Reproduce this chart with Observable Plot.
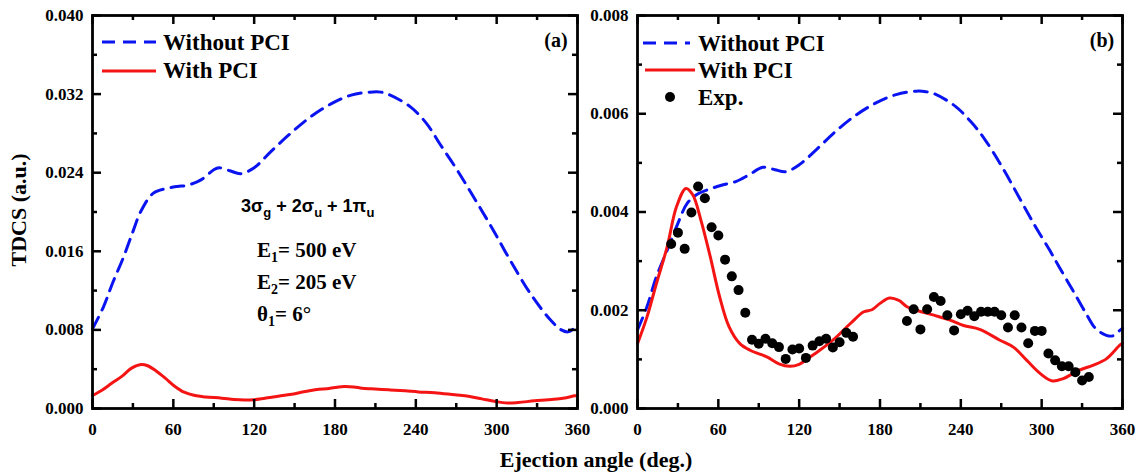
<!DOCTYPE html>
<html>
<head>
<meta charset="utf-8">
<script src="https://cdn.jsdelivr.net/npm/d3@7"></script>
<script src="https://cdn.jsdelivr.net/npm/@observablehq/plot@0.6"></script>
<style>
  body { margin: 0; background: white; }
  #fig { position: relative; width: 1137px; height: 474px; background: white; overflow: hidden; }
  #fig > svg { position: absolute; top: 0; }
</style>
</head>
<body>
<div id="fig"></div>
<script>
// ---------- data ----------
// Panel (a): Without PCI (dashed blue)
const woAnglesA = [0, 8, 15, 23, 30, 36, 45, 55, 63, 70, 78, 83, 90, 94, 102, 110, 120, 132, 147, 162, 177, 192, 206, 214, 221, 236, 248, 258, 271, 283, 296, 310, 325, 340, 348, 353, 357, 360];
const woValuesA = [0.0081, 0.0103, 0.0128, 0.0154, 0.0180, 0.0201, 0.0219, 0.0224, 0.0226, 0.0227, 0.0231, 0.0235, 0.0243, 0.0245, 0.0242, 0.0239, 0.0245, 0.0261, 0.0280, 0.0297, 0.0310, 0.0319, 0.0322, 0.0322, 0.0319, 0.0307, 0.0290, 0.0269, 0.0242, 0.0215, 0.0185, 0.0151, 0.0117, 0.0090, 0.0080, 0.0078, 0.0081, 0.0084];

// Panel (b): Without PCI (dashed blue)
const woAnglesB = [0, 7, 14, 22, 30, 37, 45, 55, 63, 73, 83, 93, 102, 110, 120, 132, 147, 162, 177, 192, 207, 214, 221, 236, 248, 258, 271, 283, 295, 306, 313, 323, 333, 340, 348, 353, 358, 360];
const woValuesB = [0.00160, 0.00207, 0.00268, 0.00322, 0.00377, 0.00418, 0.00437, 0.00448, 0.00455, 0.00462, 0.00476, 0.00491, 0.00486, 0.00482, 0.00496, 0.00525, 0.00564, 0.00597, 0.00622, 0.00639, 0.00646, 0.00645, 0.00640, 0.00615, 0.00582, 0.00547, 0.00490, 0.00431, 0.00372, 0.00322, 0.00288, 0.00241, 0.00193, 0.00163, 0.00149, 0.00148, 0.00159, 0.00163];

// With PCI (solid red), same in both panels
const wAngles = [0, 7, 14, 22, 29, 36, 41, 47, 54, 61, 68, 76, 84, 96, 105, 113, 120, 128, 133, 145, 158, 168, 174, 180, 187, 194, 200, 207, 220, 232, 242, 254, 269, 279, 289, 299, 308, 316, 328, 338, 348, 358, 360];
const wValues = [0.00132, 0.00186, 0.00254, 0.00329, 0.00411, 0.00448, 0.00435, 0.00384, 0.00309, 0.00227, 0.00166, 0.00132, 0.00118, 0.00105, 0.00091, 0.00086, 0.00090, 0.00105, 0.00114, 0.00139, 0.00173, 0.00197, 0.00201, 0.00214, 0.00225, 0.00220, 0.00207, 0.00200, 0.00190, 0.00180, 0.00169, 0.00161, 0.00139, 0.00125, 0.00098, 0.00071, 0.00056, 0.00061, 0.00078, 0.00088, 0.00101, 0.00129, 0.00133];

// Experimental points (panel b)
const expAngles = [25, 30, 35, 40, 45, 50, 55, 60, 65, 70, 75, 80, 85, 90, 95, 100, 105, 110, 115, 120, 125, 130, 135, 140, 145, 150, 155, 160,
                   200, 205, 210, 215, 220, 225, 230, 235, 240, 245, 250, 255, 260, 265, 270, 275, 280, 285, 290, 295, 300, 305, 310, 315, 320, 325, 330, 335];
const expValues = [0.00335, 0.00358, 0.00325, 0.00399, 0.00452, 0.00428, 0.00369, 0.00352, 0.00303, 0.00269, 0.00241, 0.00195, 0.00140, 0.00132, 0.00142, 0.00133, 0.00125, 0.00101, 0.00120, 0.00122, 0.00103, 0.00128, 0.00137, 0.00142, 0.00124, 0.00135, 0.00154, 0.00146,
                   0.00178, 0.00202, 0.00161, 0.00202, 0.00227, 0.00219, 0.00190, 0.00159, 0.00192, 0.00199, 0.00188, 0.00197, 0.00197, 0.00197, 0.00190, 0.00165, 0.00190, 0.00165, 0.00133, 0.00158, 0.00158, 0.00112, 0.00098, 0.00086, 0.00086, 0.00074, 0.00057, 0.00064];

// Ticks
const xMajor = [0, 60, 120, 180, 240, 300, 360];
const xMinor = [30, 90, 150, 210, 270, 330];
const yMajorA = [0, 0.008, 0.016, 0.024, 0.032, 0.040];
const yMinorA = [0.004, 0.012, 0.020, 0.028, 0.036];
const yMajorB = [0, 0.002, 0.004, 0.006, 0.008];
const yMinorB = [0.001, 0.003, 0.005, 0.007];

// ---------- build ----------
const zip = (a, b) => a.map((x, i) => ({angle: x, v: b[i]}));
const woA = zip(woAnglesA, woValuesA);
const woB = zip(woAnglesB, woValuesB);
const withPCI = zip(wAngles, wValues);
const expData = zip(expAngles, expValues);

const BLUE = "#0a14f0";
const RED = "#f51414";
const SERIF = "'Liberation Serif', 'Times New Roman', serif";

const FRAME_W = 485, FRAME_H = 393;   // plot-area size in px
const X_MAX = 360;

// inward ticks on all four sides (lengths converted from px to data units)
function tickMarks(yMax, yMajor, yMinor) {
  const dxPx = X_MAX / FRAME_W, dyPx = yMax / FRAME_H;
  const sw = 2.5;
  const mk = [];
  for (const [ticks, len] of [[xMajor, 9], [xMinor, 5]]) {
    mk.push(Plot.ruleX(ticks, {x: d => d, y1: 0, y2: len * dyPx, stroke: "black", strokeWidth: sw}));
    mk.push(Plot.ruleX(ticks, {x: d => d, y1: yMax - len * dyPx, y2: yMax, stroke: "black", strokeWidth: sw}));
  }
  for (const [ticks, len] of [[yMajor, 9], [yMinor, 5]]) {
    mk.push(Plot.ruleY(ticks, {y: d => d, x1: 0, x2: len * dxPx, stroke: "black", strokeWidth: sw}));
    mk.push(Plot.ruleY(ticks, {y: d => d, x1: X_MAX - len * dxPx, x2: X_MAX, stroke: "black", strokeWidth: sw}));
  }
  return mk;
}

function axesMarks(yMax, yMajor, yMinor) {
  const fmt = d3.format(".3f");
  return [
    Plot.axisX(xMajor, {anchor: "bottom", tickSize: 0, tickPadding: 14, tickFormat: d => String(d), label: null, fontSize: 17}),
    Plot.axisY(yMajor, {anchor: "left", tickSize: 0, tickPadding: 9, tickFormat: fmt, label: null, fontSize: 17}),
    ...tickMarks(yMax, yMajor, yMinor),
    Plot.frame({stroke: "black", strokeWidth: 2.8})
  ];
}

const common = {
  height: 440,
  marginTop: 15,
  marginBottom: 32,
  marginLeft: 92,
  style: {fontFamily: SERIF, fontSize: "17px", fontWeight: "bold", color: "black", background: "transparent", overflow: "visible"}
};

const plotA = Plot.plot({
  ...common,
  width: 600,
  marginRight: 23,
  x: {domain: [0, X_MAX]},
  y: {domain: [0, 0.040]},
  marks: [
    Plot.line(woA, {x: "angle", y: "v", stroke: BLUE, strokeWidth: 3, strokeDasharray: "13,8", curve: "catmull-rom"}),
    Plot.line(withPCI, {x: "angle", y: "v", stroke: RED, strokeWidth: 3, curve: "catmull-rom"}),
    ...axesMarks(0.040, yMajorA, yMinorA)
  ]
});

const plotB = Plot.plot({
  ...common,
  width: 592,
  marginRight: 15,
  x: {domain: [0, X_MAX]},
  y: {domain: [0, 0.008]},
  marks: [
    Plot.line(woB, {x: "angle", y: "v", stroke: BLUE, strokeWidth: 3, strokeDasharray: "13,8", curve: "catmull-rom"}),
    Plot.line(withPCI, {x: "angle", y: "v", stroke: RED, strokeWidth: 3, curve: "catmull-rom"}),
    Plot.dot(expData, {x: "angle", y: "v", r: 5, fill: "black", stroke: "none"}),
    ...axesMarks(0.008, yMajorB, yMinorB)
  ]
});

const fig = document.getElementById("fig");
plotA.style.left = "0px";
plotB.style.left = "545px";
fig.appendChild(plotA);
fig.appendChild(plotB);

// ---------- overlay: titles, legends, annotations ----------
const ns = "http://www.w3.org/2000/svg";
const ov = document.createElementNS(ns, "svg");
ov.setAttribute("width", 1137);
ov.setAttribute("height", 474);
ov.style.position = "absolute";
ov.style.left = "0px";
ov.style.top = "0px";
ov.style.pointerEvents = "none";
ov.innerHTML = `
<g font-family="${SERIF}" font-weight="bold" fill="black">
  <text transform="translate(18,210) rotate(-90)" text-anchor="middle" dominant-baseline="central" font-size="22">TDCS (a.u.)</text>
  <text x="596" y="467" text-anchor="middle" font-size="22">Ejection angle (deg.)</text>

  <line x1="102" y1="42" x2="156" y2="42" stroke="${BLUE}" stroke-width="3" stroke-dasharray="13,8"/>
  <text x="163" y="50" font-size="23">Without PCI</text>
  <line x1="102" y1="71" x2="156" y2="71" stroke="${RED}" stroke-width="3"/>
  <text x="163" y="78" font-size="23">With PCI</text>
  <text x="556" y="47" text-anchor="middle" font-size="20">(a)</text>

  <line x1="643" y1="43" x2="690" y2="43" stroke="${BLUE}" stroke-width="3" stroke-dasharray="13,8"/>
  <text x="698" y="51" font-size="23">Without PCI</text>
  <line x1="645" y1="70" x2="695" y2="70" stroke="${RED}" stroke-width="3"/>
  <text x="698" y="78" font-size="23">With PCI</text>
  <circle cx="670" cy="97" r="5" fill="black"/>
  <text x="698" y="105" font-size="23">Exp.</text>
  <text x="1102" y="47" text-anchor="middle" font-size="20">(b)</text>

  <text x="241" y="212" font-family="'Liberation Sans', Arial, sans-serif" font-size="18">3σ<tspan font-size="13" dy="5">g</tspan><tspan dy="-5"> + 2σ</tspan><tspan font-size="13" dy="5">u</tspan><tspan dy="-5"> + 1π</tspan><tspan font-size="13" dy="5">u</tspan></text>
  <text x="257" y="257" font-size="21">E<tspan font-size="14" dy="5">1</tspan><tspan dy="-5">= 500 eV</tspan></text>
  <text x="257" y="289" font-size="21">E<tspan font-size="14" dy="5">2</tspan><tspan dy="-5">= 205 eV</tspan></text>
  <text x="257" y="321" font-size="21">θ<tspan font-size="14" dy="5">1</tspan><tspan dy="-5">= 6°</tspan></text>
</g>`;
fig.appendChild(ov);
</script>
</body>
</html>
